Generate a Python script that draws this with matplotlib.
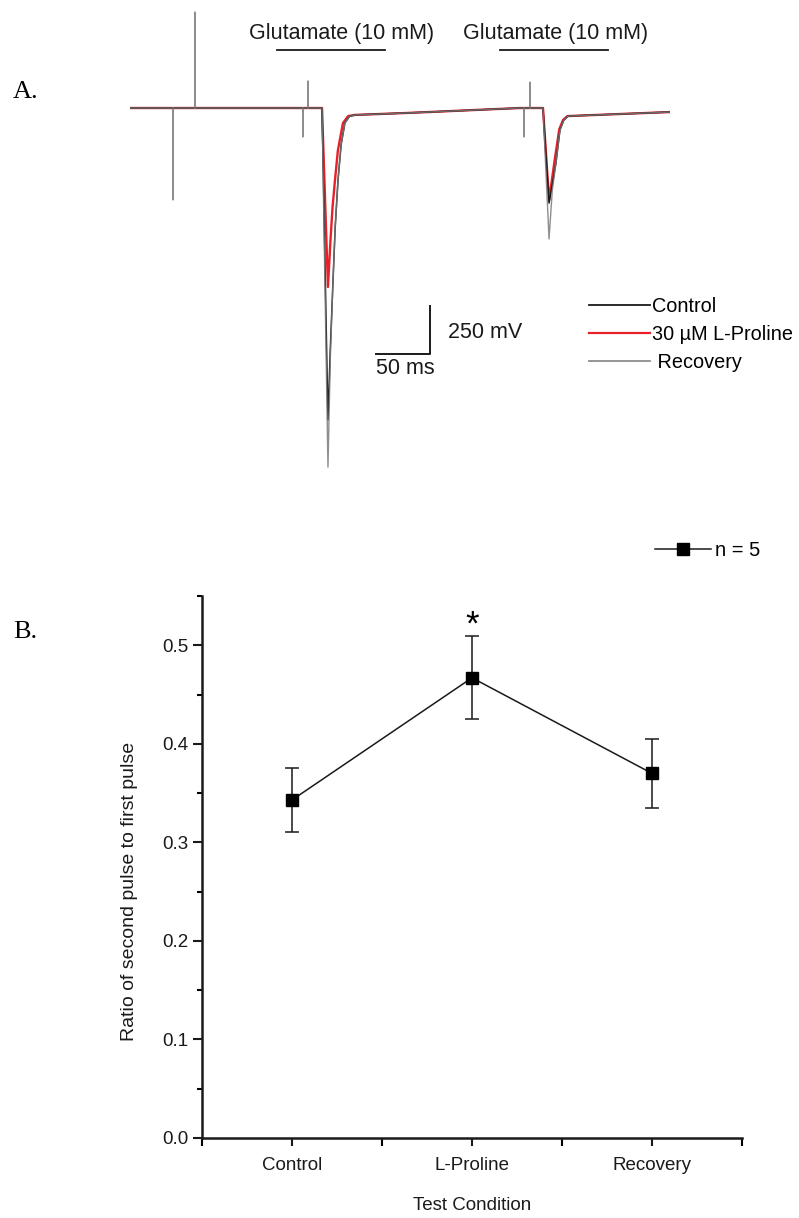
import matplotlib
matplotlib.use('Agg')
import matplotlib.pyplot as plt
from matplotlib.ticker import MultipleLocator, FormatStrFormatter
from matplotlib.lines import Line2D

plt.rcParams['font.family'] = ['Liberation Sans', 'DejaVu Sans']

# ---------------- Panel A data (time in ms, current trace in mV) ----------------
t_control = [0, 177.8, 183.3, 185.5, 188.0, 190.0, 192.6, 195.5, 199.0, 203.0, 208.0, 260.0, 361.0,
             382.4, 388.0, 391.0, 394.4, 398.1, 401.5, 405.6, 450.0, 500.0]
v_control = [0, 0, -1625, -1250, -896, -620, -375, -190, -78, -45, -36, -25, 0,
             0, -495, -400, -286, -115, -65, -42, -32, -21]

t_proline = [0, 177.8, 183.3, 185.5, 187.5, 189.8, 192.5, 197.2, 202.0, 208.0, 260.0, 361.0,
             382.4, 388.0, 390.5, 393.5, 397.5, 401.0, 405.0, 450.0, 500.0]
v_proline = [0, 0, -932, -700, -520, -375, -220, -78, -42, -36, -25, 0,
             0, -479, -380, -260, -110, -62, -42, -32, -21]

t_recovery = [0, 39.7, 39.8, 39.9, 60.1, 60.2, 60.3, 159.9, 160.0, 160.1, 164.7, 164.8, 164.9,
              177.8, 183.3, 185.5, 188.0, 190.0, 192.6, 195.5, 199.0, 203.0, 208.0, 260.0, 361.0,
              364.7, 364.8, 364.9, 370.3, 370.4, 370.5,
              382.4, 388.0, 391.0, 394.4, 398.1, 401.5, 405.6, 450.0, 500.0]
v_recovery = [0, 0, -479, 0, 0, 500, 0, 0, -151, 0, 0, 141, 0,
              0, -1870, -1300, -896, -620, -375, -190, -78, -45, -36, -25, 0,
              0, -151, 0, 0, 135, 0,
              0, -682, -430, -286, -115, -65, -42, -32, -21]

glu_start = [136.0, 342.6]
glu_end = [236.0, 442.6]
glu_label = 'Glutamate (10 mM)'
scale_ms = 50
scale_mv = 250

# ---------------- Panel B data ----------------
conditions = ['Control', 'L-Proline', 'Recovery']
ratio = [0.343, 0.467, 0.370]
ratio_sem = [0.032, 0.042, 0.035]
n_cells = 5

W, H = 799, 1218
fig = plt.figure(figsize=(W / 100, H / 100), dpi=100)

# ---- Panel A ----
axA = fig.add_axes([130 / W, 1 - 470 / H, 540 / W, 470 / H])
axA.set_xlim(0, 500)
axA.set_ylim(-1885, 562.5)
axA.axis('off')

axA.plot(t_proline, v_proline, color='#e8202a', lw=1.7, zorder=2)
axA.plot(t_control, v_control, color='#1a1a1a', lw=1.1, zorder=3)
axA.plot(t_recovery, v_recovery, color='#7a7a7a', lw=1.0, alpha=0.85, zorder=4)

for s, e, tx in zip(glu_start, glu_end, [110.2, 308.3]):
    axA.plot([s, e], [302, 302], color='#1a1a1a', lw=1.3)
    axA.text(tx, 359, glu_label, fontsize=15.5, ha='left', va='baseline', color='#1a1a1a')

# scale bar
corner_t, corner_v = 277.8, -1281
axA.plot([corner_t - scale_ms, corner_t, corner_t], [corner_v, corner_v, corner_v + scale_mv],
         color='#1a1a1a', lw=1.4)
axA.text(294.4, -1167, f'{scale_mv} mV', fontsize=15.5, ha='left', va='center', color='#1a1a1a')
axA.text(corner_t - scale_ms, -1354, f'{scale_ms} ms', fontsize=15.5, ha='left', va='center', color='#1a1a1a')

handlesA = [Line2D([], [], color='#1a1a1a', lw=1.3),
            Line2D([], [], color='#e8202a', lw=1.6),
            Line2D([], [], color='#8c8c8c', lw=1.3)]
axA.legend(handlesA, ['Control', '30 \u00b5M L-Proline', ' Recovery'], loc='upper left',
           bbox_to_anchor=(589 / W, 1 - 297 / H), bbox_transform=fig.transFigure,
           frameon=False, fontsize=14.3, handlelength=3.05, handletextpad=0.1,
           borderpad=0, borderaxespad=0, labelspacing=0.45)

fig.text(13 / W, 1 - 92 / H, 'A.', family='Liberation Serif', fontsize=19, va='center', ha='left')
fig.text(13 / W, 1 - 632 / H, 'B.', family='Liberation Serif', fontsize=19, va='center', ha='left')

# ---- Panel B ----
axB = fig.add_axes([202 / W, 1 - 1138 / H, 540 / W, 542 / H])
x = [1, 2, 3]
axB.errorbar(x, ratio, yerr=ratio_sem, fmt='-s', color='#1a1a1a', mfc='black', mec='black',
             ms=8, lw=1.1, elinewidth=1.1, capsize=5, capthick=1.1)
axB.annotate('*', xy=(2, ratio[1] + ratio_sem[1]), xytext=(0, -4), textcoords='offset points',
             ha='center', va='bottom', fontsize=25)

axB.set_xlim(0.5, 3.5)
axB.set_ylim(0, 0.55)
axB.set_xticks(x)
axB.set_xticklabels(conditions)
axB.xaxis.set_minor_locator(plt.FixedLocator([0.5, 1.5, 2.5, 3.5]))
axB.yaxis.set_major_locator(MultipleLocator(0.1))
axB.yaxis.set_minor_locator(MultipleLocator(0.05))
axB.yaxis.set_major_formatter(FormatStrFormatter('%.1f'))
for side in ['top', 'right']:
    axB.spines[side].set_visible(False)
for side in ['left', 'bottom']:
    axB.spines[side].set_linewidth(1.8)
    axB.spines[side].set_color('#1a1a1a')
axB.tick_params(axis='both', which='major', direction='out', width=1.5, color='#1a1a1a',
                labelsize=13.5, labelcolor='#1a1a1a')
axB.tick_params(axis='y', which='major', length=6.5, pad=3)
axB.tick_params(axis='y', which='minor', length=3.5, width=1.5)
axB.tick_params(axis='x', which='major', length=6, pad=8)
axB.tick_params(axis='x', which='minor', length=6, width=1.5)

axB.set_xlabel('Test Condition', fontsize=13.5, color='#1a1a1a')
axB.xaxis.set_label_coords(0.5, -0.108)
axB.set_ylabel('Ratio of second pulse to first pulse', fontsize=14, color='#1a1a1a')
axB.yaxis.set_label_coords(-0.118, 0.455)

legB = Line2D([], [], color='#1a1a1a', lw=1.1, marker='s', ms=8, mfc='black', mec='black')
axB.legend([legB], [f'n = {n_cells}'], loc='center left', bbox_to_anchor=(655 / W, 1 - 551 / H),
           bbox_transform=fig.transFigure, frameon=False, fontsize=14.5, handlelength=2.8,
           handletextpad=0.2, borderpad=0, borderaxespad=0)

fig.savefig('out.png', dpi=100)
